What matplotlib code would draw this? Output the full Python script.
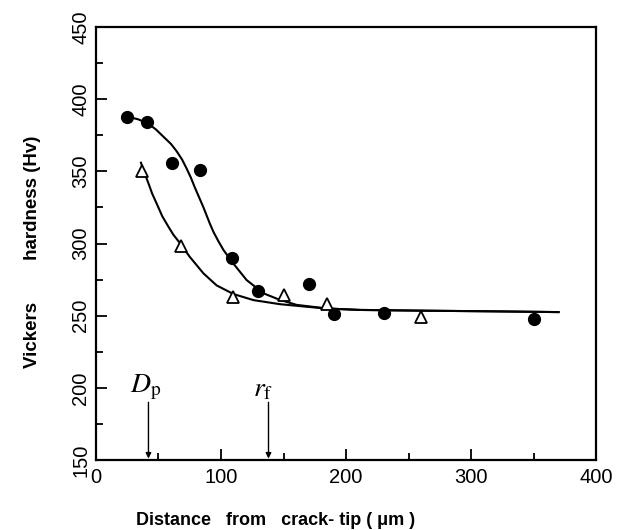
import matplotlib
matplotlib.use("Agg")
import matplotlib.pyplot as plt

plt.rcParams['font.family'] = ['Liberation Sans', 'DejaVu Sans']
plt.rcParams['mathtext.fontset'] = 'stix'

dist_filled = [25, 41, 61, 83, 109, 130, 170, 190, 230, 350]
hv_filled = [388, 384, 356, 351, 290, 267, 272, 251, 252, 248]

dist_open = [37, 68, 110, 150, 185, 260]
hv_open = [350, 298, 263, 264, 258, 249]

# fitted curves, points
curve_filled_x = [25, 34, 42, 48, 54, 60, 64.5, 69, 72.5, 76, 79, 83, 86,
                  91, 94, 98, 102, 110, 120.5, 134, 147, 160.5, 184.5, 211,
                  260, 320, 370]
curve_filled_y = [388, 386, 383, 379, 374, 369, 364, 358, 352, 345.5, 339,
                  331, 325, 314, 308, 301.5, 295.5, 286, 274.7, 265.5, 261,
                  257.5, 255, 254, 253.5, 253, 252.5]

curve_open_x = [36, 39, 42, 45, 48.5, 53, 58, 62, 67, 75, 86, 96.5, 110,
                126, 147, 168.5, 184.5, 211, 260, 320, 370]
curve_open_y = [356, 348.5, 341.7, 334.5, 327.8, 319, 311.6, 306, 300.5,
                290.8, 279.3, 271, 265, 260.8, 258, 256.2, 255, 254, 253.5,
                253, 252.5]

# characteristic distances
d_p = 42
r_f = 138

fig = plt.figure(figsize=(6.19, 5.30), dpi=100)
ax = fig.add_axes([0.155, 0.132, 0.808, 0.817])

ax.plot(curve_filled_x, curve_filled_y, color='black', lw=1.5)
ax.plot(curve_open_x, curve_open_y, color='black', lw=1.5)
ax.plot(dist_filled, hv_filled, 'o', color='black', markersize=8.5, zorder=3)
ax.plot(dist_open, hv_open, '^', markerfacecolor='white',
        markeredgecolor='black', markersize=9, markeredgewidth=1.3, zorder=3)

for xv, lab, dx in [(d_p, r'$D_{\rm p}$', -2), (r_f, r'$r_{\rm f}$', -4)]:
    ax.annotate('', xy=(xv, 151), xytext=(xv, 190),
                arrowprops=dict(arrowstyle='-|>', color='black', lw=1.0,
                                mutation_scale=8, shrinkA=0, shrinkB=0))
    ax.text(xv + dx, 190, lab, fontsize=20, ha='center', va='bottom')

ax.set_xlim(0, 400)
ax.set_ylim(150, 450)
ax.set_xticks([0, 100, 200, 300, 400])
ax.set_xticks([50, 150, 250, 350], minor=True)
ax.set_yticks([150, 200, 250, 300, 350, 400, 450])
ax.set_yticks([175, 225, 275, 325, 375, 425], minor=True)
ax.tick_params(which='both', direction='in', top=False, right=False,
               labelsize=14.5, width=1.3)
ax.tick_params(which='major', length=8)
ax.tick_params(which='minor', length=5)
ax.tick_params(axis='x', pad=6)
ax.tick_params(axis='y', pad=4)
for lbl in ax.get_yticklabels():
    lbl.set_rotation(90)
    lbl.set_va('center')
for sp in ax.spines.values():
    sp.set_linewidth(1.6)

xl = ax.set_xlabel('Distance   from   crack- tip ( \u03bcm )', fontsize=13,
                   fontweight='bold', labelpad=18)
xl.set_x(0.36)
yl = ax.set_ylabel('Vickers        hardness (Hv)', fontsize=13.5,
                   fontweight='bold', labelpad=22)
yl.set_y(0.48)

fig.savefig('out.png', dpi=100)
